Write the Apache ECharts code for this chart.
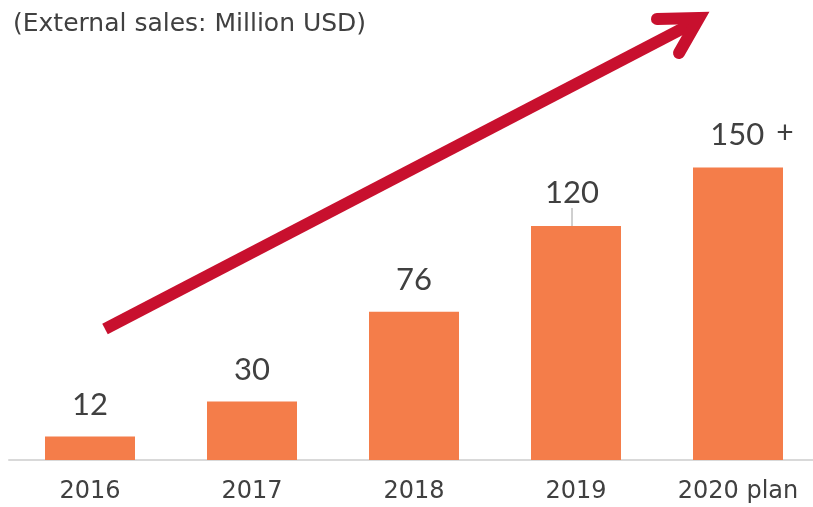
<!DOCTYPE html>
<html>
<head>
<meta charset="utf-8">
<script src="https://cdn.jsdelivr.net/npm/echarts@6/dist/echarts.min.js"></script>
<style>
  html, body { margin: 0; padding: 0; background: #fff; }
  #main { width: 813px; height: 507px; }
</style>
</head>
<body>
<div id="main"></div>
<script>
// 类目与数值
var years = ['2016', '2017', '2018', '2019', '2020 plan']
var sales = [12, 30, 76, 120, 150]
var unitTitle = '(External sales: Million USD)'

var textColor = '#404040'
var myChart = echarts.init(document.getElementById('main'))

// 只有 2019 显示引导线
var barData = sales.map(function (v, i) {
    return i === 3 ? { value: v, labelLine: { show: true } } : v
})

var option = {
    animation: false,
    title: {
        text: unitTitle,
        left: 8,
        top: 7,
        textStyle: { fontFamily: 'DejaVu Sans', fontWeight: 'normal', fontSize: 25, color: textColor }
    },
    grid: { left: 9, width: 810, top: 70, bottom: 47, outerBoundsMode: 'none' },
    xAxis: {
        type: 'category',
        data: years,
        axisTick: { show: false },
        axisLine: { lineStyle: { color: '#d9d9d9', width: 2 } },
        axisLabel: { fontFamily: 'DejaVu Sans', fontSize: 24, color: textColor, margin: 20 }
    },
    yAxis: {
        type: 'value',
        min: 0,
        max: 200,
        show: false,
        splitLine: { show: false }
    },
    series: [{
        type: 'bar',
        data: barData,
        barWidth: 90,
        itemStyle: { color: '#F47D4A' },
        label: {
            show: true,
            position: 'top',
            distance: 16,
            fontFamily: 'Lato',
            fontSize: 31,
            color: textColor,
            formatter: function (p) {
                return p.dataIndex === sales.length - 1 ? '{a|' + p.value + '}{b|+}' : String(p.value)
            },
            rich: {
                a: { fontFamily: 'Lato', fontSize: 31, color: textColor },
                b: { fontFamily: 'Lato', fontSize: 30, color: textColor, padding: [0, 0, 3, 12] }
            }
        },
        labelLayout: function (params) {
            if (params.dataIndex === 3) return { dx: -4, dy: -2 }
            if (params.dataIndex === 4) return { dx: 14 }
        },
        labelLine: { show: false, lineStyle: { color: '#a0a0a0', width: 1 } }
    }],
    // 红色趋势箭头（装饰）
    graphic: [
        {
            type: 'polyline',
            shape: { points: [[105, 329], [697, 21]] },
            style: { stroke: '#C8102E', lineWidth: 12, lineCap: 'butt', fill: null }
        },
        {
            type: 'polyline',
            shape: { points: [[657, 19], [699, 18], [679, 53]] },
            style: { stroke: '#C8102E', lineWidth: 12, lineCap: 'round', lineJoin: 'miter', fill: null }
        }
    ]
}

myChart.setOption(option)
</script>
</body>
</html>
